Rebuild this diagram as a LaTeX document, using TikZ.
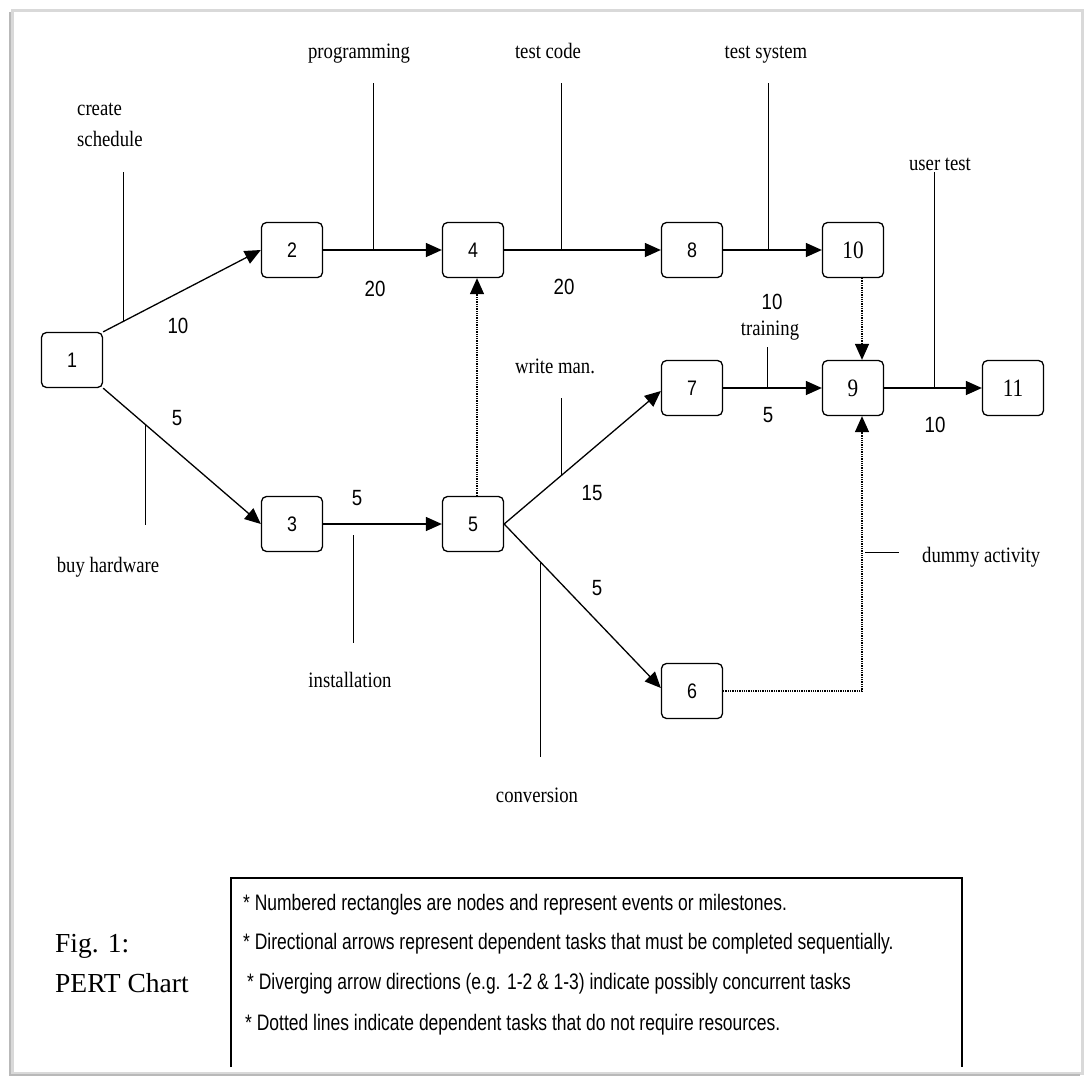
\documentclass[tikz,border=0pt]{standalone}
\usepackage{fontspec}
\setmainfont{Liberation Serif}
\newfontfamily\lblfont[FakeStretch=0.85]{Liberation Serif}
\newfontfamily\numfont[FakeStretch=0.85]{Liberation Sans}
\newfontfamily\legfont[FakeStretch=0.78]{Liberation Sans}
\usetikzlibrary{arrows.meta,calc}
\begin{document}
\begin{tikzpicture}[x=1pt,y=-1pt,
  evt/.style={draw,line width=1.3pt,rounded corners=5pt,minimum width=61pt,minimum height=55pt,inner sep=0pt,font=\numfont\fontsize{21}{24}\selectfont},
  sevt/.style={evt,font=\lblfont\fontsize{25}{28}\selectfont},
  arr/.style={line width=1.3pt,-{Triangle[length=16pt,width=14pt]}},
  dotarr/.style={line width=1.3pt,densely dotted,-{Triangle[length=16pt,width=14pt]}},
  tick/.style={line width=1pt},
  lbl/.style={anchor=base,inner sep=0pt,font=\lblfont\fontsize{22}{25}\selectfont},
  num/.style={inner sep=0pt,font=\numfont\fontsize{22}{25}\selectfont},
  leg/.style={anchor=base west,inner sep=0pt,font=\legfont\fontsize{22.4}{25}\selectfont},
  fig/.style={anchor=base west,inner sep=0pt,font=\fontsize{27.5}{31}\selectfont}]
\useasboundingbox (0,0) rectangle (1086,1082);
\fill[white] (0,0) rectangle (1086,1082);
\draw[gray!30,line width=3pt] (12,10) rectangle (1082,1073);
\draw[gray!55,line width=1.2pt] (10,12) -- (10,1075) -- (1080,1075);

% events
\node[evt] (n1) at (72,360) {1};
\node[evt] (n2) at (292,250) {2};
\node[evt] (n4) at (473,250) {4};
\node[evt] (n8) at (692,250) {8};
\node[sevt] (n10) at (853,250) {10};
\node[evt] (n7) at (692,388) {7};
\node[sevt] (n9) at (853,388) {9};
\node[sevt] (n11) at (1013,388) {11};
\node[evt] (n3) at (292,524) {3};
\node[evt] (n5) at (473,524) {5};
\node[evt] (n6) at (692,691) {6};

% activities
\draw[arr] (n1.north east) -- coordinate[pos=0.132] (c12) (n2.west);
\draw[arr] (n1.south east) -- coordinate[pos=0.27] (c13) (n3.west);
\draw[arr] (n2) -- coordinate[pos=0.425] (c24) (n4);
\draw[arr] (n4) -- coordinate[pos=0.369] (c48) (n8);
\draw[arr] (n8) -- coordinate[pos=0.46] (c810) (n10);
\draw[arr] (n3) -- (n5);
\draw[arr] (n5.east) -- coordinate[pos=0.369] (c57) ($(n7.west)+(0,3)$);
\draw[arr] (n5.east) -- coordinate[pos=0.231] (c56) ($(n6.west)+(0,-3)$);
\draw[arr] (n7) -- coordinate[pos=0.45] (c79) (n9);
\draw[arr] (n9) -- coordinate[pos=0.52] (c911) (n11);

% dummy activities
\draw[dotarr] ($(n5.north)+(4,0)$) -- ($(n4.south)+(4,0)$);
\draw[dotarr] ($(n10.south)+(9,0)$) -- ($(n9.north)+(9,0)$);
\coordinate (d69) at ($(n9.south)+(9,0)$);
\draw[dotarr] (n6.east) -| (d69);

% leader ticks
\draw[tick] (c12) -- (c12 |- 0,172);
\draw[tick] (c24) -- (c24 |- 0,83);
\draw[tick] (c48) -- (c48 |- 0,83);
\draw[tick] (c810) -- (c810 |- 0,83);
\draw[tick] (c911) -- (c911 |- 0,172);
\draw[tick] (c79) -- (c79 |- 0,347);
\draw[tick] (c57) -- (c57 |- 0,398);
\draw[tick] (c13) -- (c13 |- 0,525);
\draw[tick] (c56) -- (c56 |- 0,757);
\coordinate (i1) at (353,535);
\coordinate (i2) at (353,643);
\draw[tick] (i1) -- (i2);
\coordinate (da1) at (865,552);
\coordinate (da2) at (899,552);
\draw[tick] (da1) -- (da2);

% labels
\node[lbl,anchor=base west] (lcs1) at (77,115) {create};
\node[lbl,anchor=base west] (lcs2) at (77,146) {schedule};
\node[lbl] (lprog) at (359,58) {programming};
\node[lbl] (ltc) at (548,58) {test code};
\node[lbl] (lts) at (766,58) {test system};
\node[lbl] (lut) at (940,170) {user test};
\node[lbl] (ltr) at (770,335) {training};
\node[lbl] (lwm) at (555,373) {write man.};
\node[lbl] (lbh) at (108,572) {buy hardware};
\node[lbl] (lin) at (350,687) {installation};
\node[lbl] (lco) at (537,802) {conversion};
\node[lbl,anchor=base west] (lda) at (922,562) {dummy activity};

% durations
\node[num] (w12) at (178,326) {10};
\node[num] (w13) at (177,418) {5};
\node[num] (w24) at (375,289) {20};
\node[num] (w48) at (564,287) {20};
\node[num] (w810) at (772,302) {10};
\node[num] (w35) at (357,498) {5};
\node[num] (w57) at (592,493) {15};
\node[num] (w56) at (597,588) {5};
\node[num] (w79) at (768,415) {5};
\node[num] (w911) at (935,425) {10};

% legend
\draw[line width=1.3pt] (231,1067) -- (231,878) -- (962,878) -- (962,1067);
\node[leg] (g1) at (243,910) {* Numbered rectangles are nodes and represent events or milestones.};
\node[leg] (g2) at (243,949) {* Directional arrows represent dependent tasks that must be completed sequentially.};
\node[leg] (g3) at (247,989) {* Diverging arrow directions (e.g. 1-2 \& 1-3) indicate possibly concurrent tasks};
\node[leg] (g4) at (245,1030) {* Dotted lines indicate dependent tasks that do not require resources.};
\node[fig] (fig1) at (55,952) {Fig. 1:};
\node[fig] (fig2) at (55,992) {PERT Chart};
\end{tikzpicture}
\end{document}
